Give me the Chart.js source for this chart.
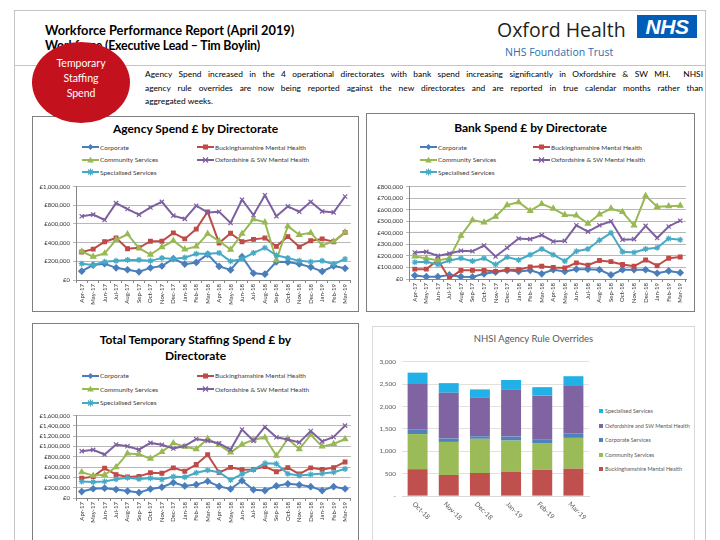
<!DOCTYPE html>
<html>
<head>
<meta charset="utf-8">
<script src="https://cdn.jsdelivr.net/npm/chart.js@4.4.0/dist/chart.umd.min.js"></script>
<style>
  html, body { margin: 0; padding: 0; background: #fff; }
  #page { position: relative; width: 720px; height: 540px; overflow: hidden; font-family: Lato, "Liberation Sans", sans-serif; }
  .abs { position: absolute; }
  .hline { position: absolute; height: 0; border-top: 1px solid #c4c4c4; }
  .vline { position: absolute; width: 0; border-left: 1px solid #c4c4c4; }
  .panel { position: absolute; border: 1px solid #7f7f7f; box-sizing: border-box; background: #fff; }
  .panel.light { border-color: #d9d9d9; }
  .ctitle { position: absolute; text-align: center; font-weight: bold; font-size: 12px; line-height: 16px; color: #000; white-space: nowrap; }
  .legend { position: absolute; display: grid; font-size: 6.5px; color: #404040; }
  .legend .it { display: flex; align-items: center; white-space: nowrap; }
  .legend svg { margin-right: 1px; flex: none; }
  canvas { position: absolute; }
  .para { position: absolute; left: 145px; top: 68px; width: 558px; font-size: 8.4px; line-height: 13.5px; color: #000; }
  .para div { text-align: justify; text-align-last: justify; white-space: nowrap; }
  .para div.last { text-align-last: left; }
  .lg4 { position: absolute; left: 599px; font-size: 5.5px; color: #595959; white-space: nowrap; display: flex; align-items: center; }
  .lg4 span.sq { display: inline-block; width: 4px; height: 4px; margin-right: 2px; }
</style>
</head>
<body>
<div id="page">
  <!-- page frame -->
  <div class="hline" style="left:14px; top:10px; width:691px;"></div>
  <div class="vline" style="left:14px; top:10px; height:540px;"></div>
  <div class="vline" style="left:705px; top:10px; height:540px;"></div>
  <div class="hline" style="left:14px; top:65px; width:691px;"></div>

  <!-- header -->
  <div class="abs" style="left:45px; top:23px; font-size:12.8px; line-height:14px; font-weight:bold;">Workforce Performance Report (April 2019)</div>
  <div class="abs" style="left:45px; top:39px; font-size:12.4px; line-height:14px; font-weight:bold; letter-spacing:-0.2px;">Workforce (Executive Lead – Tim Boylin)</div>

  <div class="abs" style="left:497px; top:18px; font-family:'Open Sans',sans-serif; font-size:19.5px; line-height:24px; color:#231f20;">Oxford Health</div>
  <div class="abs" style="left:637px; top:15px; width:60px; height:23px; background:#005eb8; color:#fff; font-family:'Liberation Sans',sans-serif; font-weight:bold; font-style:italic; font-size:21px; line-height:23px; text-align:center; letter-spacing:-0.5px;">NHS</div>
  <div class="abs" style="left:505px; top:45px; font-family:'Open Sans',sans-serif; font-size:10.5px; line-height:14px; color:#2c6fb0;">NHS Foundation Trust</div>

  <div class="para">
    <div>Agency Spend increased in the 4 operational directorates with bank spend increasing significantly in Oxfordshire &amp; SW MH.&nbsp; NHSI</div>
    <div>agency rule overrides are now being reported against the new directorates and are reported in true calendar months rather than</div>
    <div class="last">aggregated weeks.</div>
  </div>

  <!-- panels -->
  <div class="panel" style="left:32px; top:116px; width:327px; height:196px;"></div>
  <div class="panel" style="left:366px; top:113px; width:329px; height:199px;"></div>
  <div class="panel" style="left:32px; top:323px; width:327px; height:230px;"></div>
  <div class="panel light" style="left:372px; top:326px; width:323px; height:230px;"></div>

  <div class="ctitle" style="left:32px; width:327px; top:121px;">Agency Spend £ by Directorate</div>
  <div class="ctitle" style="left:366px; width:329px; top:120px;">Bank Spend £ by Directorate</div>
  <div class="ctitle" style="left:32px; width:327px; top:332px;">Total Temporary Staffing Spend £ by</div>
  <div class="ctitle" style="left:32px; width:327px; top:348px;">Directorate</div>
  <div class="abs" style="left:372px; width:323px; top:333px; text-align:center; font-size:9.5px; line-height:12px; color:#595959;">NHSI Agency Rule Overrides</div>

  <div id="lg1" class="legend" style="left:82px; top:141px; grid-template-columns:115px auto; grid-auto-rows:12.5px;"></div>
  <div id="lg2" class="legend" style="left:420px; top:141px; grid-template-columns:113px auto; grid-auto-rows:12.5px;"></div>
  <div id="lg3" class="legend" style="left:82px; top:369px; grid-template-columns:115px auto; grid-auto-rows:13.5px;"></div>
  <div id="lg4"></div>

  <canvas id="c1" style="left:34px; top:180px;" width="322" height="130"></canvas>
  <canvas id="c2" style="left:366px; top:180px;" width="328" height="130"></canvas>
  <canvas id="c3" style="left:34px; top:409px;" width="322" height="131"></canvas>
  <canvas id="c4" style="left:372px; top:352px;" width="225" height="188"></canvas>

  <!-- badge -->
  <div class="abs" style="left:32px; top:42px; width:98px; height:81px; border-radius:50%; background:#c3121e;"></div>
  <div class="abs" style="left:32px; top:56px; width:98px; text-align:center; color:#fff; font-size:10.5px; line-height:15px;">Temporary<br>Staffing<br>Spend</div>
</div>

<script>
// ---------- data (values in £ thousands) ----------
var months = ["Apr-17", "May-17", "Jun-17", "Jul-17", "Aug-17", "Sep-17", "Oct-17", "Nov-17", "Dec-17", "Jan-18", "Feb-18", "Mar-18",
              "Apr-18", "May-18", "Jun-18", "Jul-18", "Aug-18", "Sep-18", "Oct-18", "Nov-18", "Dec-18", "Jan-19", "Feb-19", "Mar-19"];
var seriesNames = ["Corporate", "Buckinghamshire Mental Health", "Community Services", "Oxfordshire & SW Mental Health", "Specialised Services"];

var agencyCorporate   = [95, 160, 175, 130, 110, 88, 130, 150, 228, 170, 188, 275, 145, 108, 250, 72, 62, 195, 192, 172, 138, 92, 150, 125];
var agencyBucks       = [300, 330, 410, 450, 335, 345, 415, 415, 505, 440, 545, 730, 395, 500, 410, 435, 450, 360, 465, 355, 420, 440, 410, 510];
var agencyCommunity   = [305, 250, 285, 430, 490, 340, 272, 353, 420, 328, 360, 495, 417, 325, 495, 652, 618, 212, 576, 484, 505, 371, 413, 512];
var agencyOxford      = [682, 700, 643, 823, 760, 700, 777, 837, 689, 654, 795, 724, 731, 611, 859, 696, 908, 682, 788, 731, 837, 735, 724, 894];
var agencySpecialised = [175, 160, 195, 205, 215, 215, 205, 235, 225, 240, 280, 280, 290, 200, 225, 290, 345, 265, 235, 205, 195, 205, 170, 225];

var bankCorporate   = [30, 20, 20, 35, 20, 18, 45, 60, 75, 65, 75, 45, 80, 65, 85, 85, 80, 35, 80, 80, 80, 50, 70, 55];
var bankBucks       = [85, 85, 165, 5, 75, 75, 75, 65, 80, 80, 105, 110, 100, 95, 140, 120, 160, 150, 125, 110, 165, 115, 180, 190];
var bankCommunity   = [195, 180, 160, 180, 375, 510, 490, 540, 640, 665, 590, 650, 610, 555, 550, 480, 560, 610, 580, 465, 720, 625, 630, 635];
var bankOxford      = [230, 235, 200, 220, 245, 240, 290, 195, 270, 350, 345, 380, 325, 330, 465, 410, 465, 500, 340, 345, 460, 355, 455, 505];
var bankSpecialised = [145, 150, 125, 160, 180, 155, 180, 125, 190, 165, 210, 260, 210, 155, 240, 260, 335, 400, 235, 230, 260, 270, 350, 340];

var totalCorporate   = [125, 180, 190, 165, 135, 105, 175, 210, 300, 235, 260, 325, 225, 175, 335, 160, 145, 235, 275, 255, 220, 145, 220, 180];
var totalBucks       = [385, 415, 580, 455, 410, 420, 490, 480, 585, 520, 650, 840, 495, 595, 550, 555, 610, 510, 590, 465, 585, 555, 590, 700];
var totalCommunity   = [500, 435, 450, 600, 865, 850, 765, 895, 1065, 995, 950, 1150, 1030, 885, 1040, 1130, 1175, 820, 1150, 950, 1225, 1000, 1050, 1145];
var totalOxford      = [910, 935, 845, 1040, 1005, 940, 1070, 1035, 960, 1010, 1145, 1110, 1060, 940, 1330, 1110, 1380, 1180, 1135, 1080, 1300, 1100, 1185, 1405];
var totalSpecialised = [320, 310, 320, 365, 395, 370, 385, 360, 415, 405, 490, 540, 500, 350, 465, 550, 675, 665, 470, 435, 455, 475, 500, 565];

var nhsiMonths = ["Oct-18", "Nov-18", "Dec-18", "Jan-19", "Feb-19", "Mar-19"];
var nhsiBucks       = [600, 470, 515, 545, 585, 610];
var nhsiCommunity   = [785, 740, 765, 695, 600, 690];
var nhsiCorporate   = [95, 75, 55, 90, 75, 90];
var nhsiOxford      = [1025, 1025, 860, 1050, 985, 1070];
var nhsiSpecialised = [255, 215, 190, 215, 190, 220];
var nhsiNames = ["Buckinghamshire Mental Health", "Community Services", "Corporate Services", "Oxfordshire and SW Mental Health", "Specialised Services"];

// ---------- styling ----------
var LINE_COLORS = ["#4a7ebb", "#be4b48", "#98b954", "#7d60a0", "#46aac5"];
var MARKERS = ["rectRot", "rect", "triangle", "crossRot", "star"];
var BAR_COLORS = ["#c0504d", "#9bbb59", "#4f81bd", "#8064a2", "#21b1e6"];

Chart.defaults.animation = false;
Chart.defaults.font.family = "Lato, 'Liberation Sans', sans-serif";

function money(v) { return "£" + (v * 1000).toLocaleString("en-GB"); }

function markerSvg(style, color) {
  var s = '<svg width="17" height="8" viewBox="0 0 17 8"><line x1="0" y1="4" x2="17" y2="4" stroke="' + color + '" stroke-width="2"/>';
  if (style === "rectRot") s += '<polygon points="8.5,1 11.5,4 8.5,7 5.5,4" fill="' + color + '"/>';
  else if (style === "rect") s += '<rect x="6" y="1.5" width="5" height="5" fill="' + color + '"/>';
  else if (style === "triangle") s += '<polygon points="8.5,0.8 11.8,6.6 5.2,6.6" fill="' + color + '"/>';
  else if (style === "crossRot") s += '<path d="M6,1.5 L11,6.5 M11,1.5 L6,6.5" stroke="' + color + '" stroke-width="1.2"/>';
  else s += '<path d="M6,1.5 L11,6.5 M11,1.5 L6,6.5 M8.5,0.5 L8.5,7.5" stroke="' + color + '" stroke-width="1.1"/>';
  return s + "</svg>";
}

function buildLegend(id) {
  document.getElementById(id).innerHTML = seriesNames.map(function (n, i) {
    return '<div class="it">' + markerSvg(MARKERS[i], LINE_COLORS[i]) + "<span>" + n.replace("&", "&amp;") + "</span></div>";
  }).join("");
}

function lineChart(id, series, yMax, yStep, yWidth, xHeight, padRight) {
  var datasets = series.map(function (d, i) {
    return {
      label: seriesNames[i], data: d, order: 5 - i,
      borderColor: LINE_COLORS[i], backgroundColor: LINE_COLORS[i],
      borderWidth: 2, pointStyle: MARKERS[i],
      pointRadius: MARKERS[i] === "rect" ? 2.6 : 3, pointBorderWidth: 1.2,
      tension: 0
    };
  });
  return new Chart(document.getElementById(id), {
    type: "line",
    data: { labels: months, datasets: datasets },
    options: {
      responsive: false,
      layout: { padding: { top: 6, right: padRight, left: 0, bottom: 0 } },
      plugins: { legend: { display: false }, tooltip: { enabled: false } },
      scales: {
        x: {
          offset: true,
          grid: { display: true, drawOnChartArea: false, offset: true, tickLength: 3, color: "#868686" },
          border: { color: "#868686" },
          ticks: { autoSkip: false, minRotation: 90, maxRotation: 90, padding: 1, color: "#333", font: { size: 6 } },
          afterFit: function (s) { s.height = xHeight; }
        },
        y: {
          min: 0, max: yMax,
          grid: { color: "#a6a6a6", lineWidth: 0.8, tickLength: 3 },
          border: { color: "#868686" },
          ticks: { stepSize: yStep, padding: 3, color: "#333", font: { size: 6 }, callback: function (v) { return money(v); } },
          afterFit: function (s) { s.width = yWidth; }
        }
      }
    }
  });
}

buildLegend("lg1");
buildLegend("lg2");
buildLegend("lg3");

lineChart("c1", [agencyCorporate, agencyBucks, agencyCommunity, agencyOxford, agencySpecialised], 1000, 100, 42, 30, 5);
lineChart("c2", [bankCorporate, bankBucks, bankCommunity, bankOxford, bankSpecialised], 800, 100, 43, 31, 8);
lineChart("c3", [totalCorporate, totalBucks, totalCommunity, totalOxford, totalSpecialised], 1600, 200, 42, 42, 5);

// ---------- NHSI stacked bars ----------
var nhsiSeries = [nhsiBucks, nhsiCommunity, nhsiCorporate, nhsiOxford, nhsiSpecialised];

var slantLabels = {
  id: "slantLabels",
  afterDraw: function (chart) {
    var x = chart.scales.x, ctx = chart.ctx;
    ctx.save();
    ctx.font = "6.8px Lato, 'Liberation Sans', sans-serif";
    ctx.fillStyle = "#595959";
    ctx.textAlign = "left";
    ctx.textBaseline = "middle";
    nhsiMonths.forEach(function (m, i) {
      ctx.save();
      ctx.translate(x.getPixelForValue(i) - 4, x.top + 7);
      ctx.rotate(Math.PI / 4);
      ctx.fillText(m, 0, 0);
      ctx.restore();
    });
    ctx.restore();
  }
};

new Chart(document.getElementById("c4"), {
  type: "bar",
  data: {
    labels: nhsiMonths,
    datasets: nhsiSeries.map(function (d, i) {
      return { label: nhsiNames[i], data: d, backgroundColor: BAR_COLORS[i], barPercentage: 0.64, categoryPercentage: 1 };
    })
  },
  options: {
    responsive: false,
    layout: { padding: { top: 7, right: 8, left: 0, bottom: 0 } },
    plugins: { legend: { display: false }, tooltip: { enabled: false } },
    scales: {
      x: {
        stacked: true,
        grid: { display: false },
        border: { color: "#d9d9d9" },
        ticks: { display: false },
        afterFit: function (s) { s.height = 44; }
      },
      y: {
        stacked: true, min: 0, max: 3000,
        grid: { color: "#d9d9d9", lineWidth: 0.8, drawTicks: false },
        border: { display: false },
        ticks: {
          stepSize: 500, padding: 6, color: "#595959", font: { size: 6.5 },
          callback: function (v) { return v === 0 ? "-" : v.toLocaleString("en-GB"); }
        },
        afterFit: function (s) { s.width = 30; }
      }
    }
  },
  plugins: [slantLabels]
});

// legend for the bar chart (reversed, as in the source)
var lg4Tops = [408, 422.5, 437, 451.5, 466];
document.getElementById("lg4").innerHTML = nhsiNames.slice().reverse().map(function (n, k) {
  var i = nhsiNames.length - 1 - k;
  return '<div class="lg4" style="top:' + lg4Tops[k] + 'px;"><span class="sq" style="background:' + BAR_COLORS[i] + '"></span>' + n + "</div>";
}).join("");
</script>
</body>
</html>
